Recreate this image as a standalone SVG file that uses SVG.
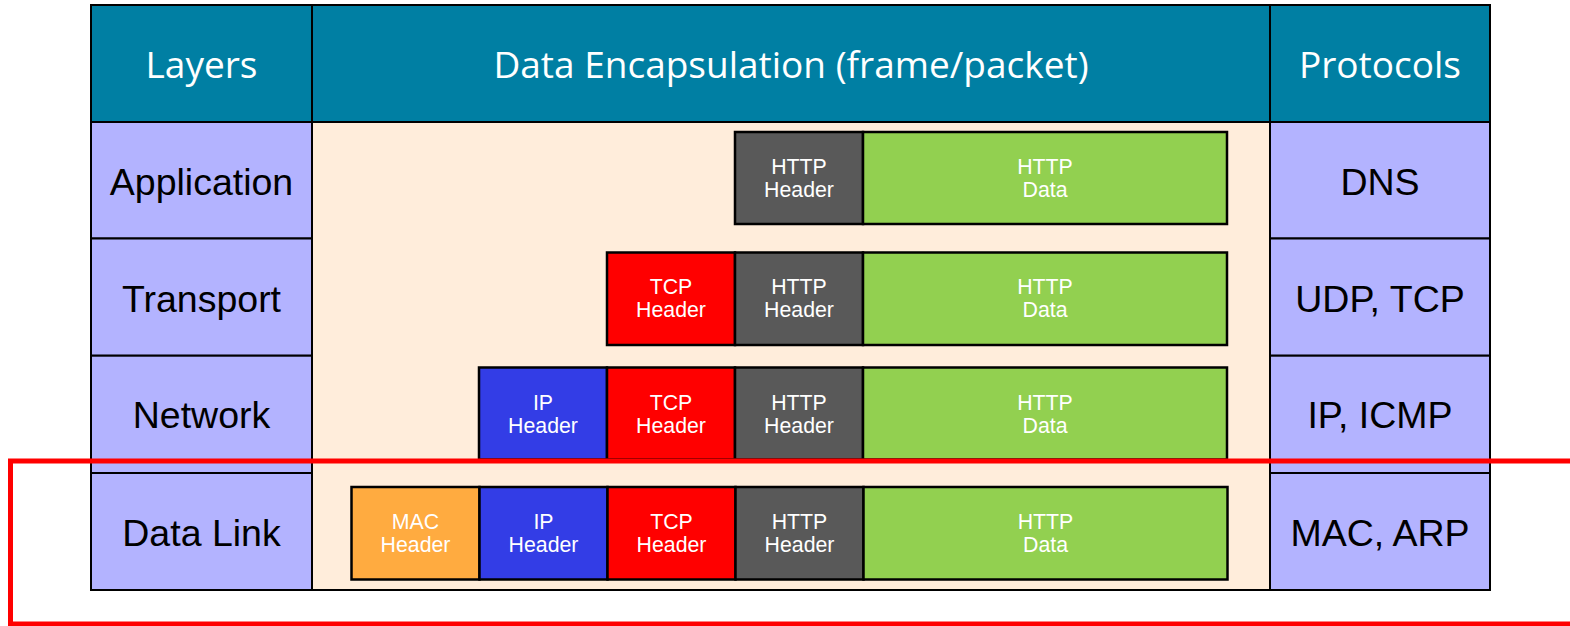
<svg xmlns="http://www.w3.org/2000/svg" width="1570" height="626" viewBox="0 0 1570 626">
<style>
.hdr{fill:#007FA3;stroke:#000;stroke-width:2}
.lay{fill:#B3B3FF;stroke:#000;stroke-width:2}
.mid{fill:#FFEDDB;stroke:#000;stroke-width:2}
.ht{font-family:"Open Sans",sans-serif;font-size:37px;fill:#fff;text-anchor:middle}
.lt{font-family:"Liberation Sans",Arial,sans-serif;font-size:37.5px;fill:#000;text-anchor:middle}
.pk{stroke:#000;stroke-width:2.5}
.pt{font-family:"Liberation Sans",Arial,sans-serif;font-size:21.3px;fill:#fff;text-anchor:middle}
.mac{fill:#FFAB40}.ip{fill:#333DE6}.tcp{fill:#FF0000}.http{fill:#595959}.data{fill:#92D050}
</style>
<rect width="1570" height="626" fill="#fff"/>
<g id="header">
<rect class="hdr" x="91" y="5" width="221" height="117"/>
<rect class="hdr" x="312" y="5" width="958" height="117"/>
<rect class="hdr" x="1270" y="5" width="220" height="117"/>
<text class="ht" x="201.5" y="78">Layers</text>
<text class="ht" x="791" y="78">Data Encapsulation (frame/packet)</text>
<text class="ht" x="1380" y="78">Protocols</text>
</g>
<g id="middle">
<rect class="mid" x="312" y="122" width="958" height="468"/>
</g>
<g id="layer-application">
<rect class="lay" x="91" y="122" width="221" height="116.5"/>
<text class="lt" x="201.5" y="195">Application</text>
</g>
<g id="layer-transport">
<rect class="lay" x="91" y="238.5" width="221" height="117.2"/>
<text class="lt" x="201.5" y="311.5">Transport</text>
</g>
<g id="layer-network">
<rect class="lay" x="91" y="355.7" width="221" height="117.3"/>
<text class="lt" x="201.5" y="428">Network</text>
</g>
<g id="layer-datalink">
<rect class="lay" x="91" y="473" width="221" height="117"/>
<text class="lt" x="201.5" y="545.5">Data Link</text>
</g>
<g id="proto-application">
<rect class="lay" x="1270" y="122" width="220" height="116.5"/>
<text class="lt" x="1380" y="195">DNS</text>
</g>
<g id="proto-transport">
<rect class="lay" x="1270" y="238.5" width="220" height="117.2"/>
<text class="lt" x="1380" y="311.5" font-size="38.5">UDP, TCP</text>
</g>
<g id="proto-network">
<rect class="lay" x="1270" y="355.7" width="220" height="117.3"/>
<text class="lt" x="1380" y="428" font-size="38.5">IP, ICMP</text>
</g>
<g id="proto-datalink">
<rect class="lay" x="1270" y="473" width="220" height="117"/>
<text class="lt" x="1380" y="545.5" font-size="38.5">MAC, ARP</text>
</g>
<g id="packet-application">
<rect class="pk http" x="735" y="132" width="128" height="92"/>
<rect class="pk data" x="863" y="132" width="364" height="92"/>
<text class="pt" x="799" y="174">HTTP</text><text class="pt" x="799" y="197">Header</text>
<text class="pt" x="1045" y="174">HTTP</text><text class="pt" x="1045" y="197">Data</text>
</g>
<g id="packet-transport">
<rect class="pk tcp" x="607" y="252.5" width="128" height="92.5"/>
<rect class="pk http" x="735" y="252.5" width="128" height="92.5"/>
<rect class="pk data" x="863" y="252.5" width="364" height="92.5"/>
<text class="pt" x="671" y="294">TCP</text><text class="pt" x="671" y="317">Header</text>
<text class="pt" x="799" y="294">HTTP</text><text class="pt" x="799" y="317">Header</text>
<text class="pt" x="1045" y="294">HTTP</text><text class="pt" x="1045" y="317">Data</text>
</g>
<g id="packet-network">
<rect class="pk ip" x="479" y="367.5" width="128" height="92"/>
<rect class="pk tcp" x="607" y="367.5" width="128" height="92"/>
<rect class="pk http" x="735" y="367.5" width="128" height="92"/>
<rect class="pk data" x="863" y="367.5" width="364" height="92"/>
<text class="pt" x="543" y="410">IP</text><text class="pt" x="543" y="433">Header</text>
<text class="pt" x="671" y="410">TCP</text><text class="pt" x="671" y="433">Header</text>
<text class="pt" x="799" y="410">HTTP</text><text class="pt" x="799" y="433">Header</text>
<text class="pt" x="1045" y="410">HTTP</text><text class="pt" x="1045" y="433">Data</text>
</g>
<g id="packet-datalink">
<rect class="pk mac" x="351.5" y="487" width="128" height="92.5"/>
<rect class="pk ip" x="479.5" y="487" width="128" height="92.5"/>
<rect class="pk tcp" x="607.5" y="487" width="128" height="92.5"/>
<rect class="pk http" x="735.5" y="487" width="128" height="92.5"/>
<rect class="pk data" x="863.5" y="487" width="364" height="92.5"/>
<text class="pt" x="415.5" y="529">MAC</text><text class="pt" x="415.5" y="552">Header</text>
<text class="pt" x="543.5" y="529">IP</text><text class="pt" x="543.5" y="552">Header</text>
<text class="pt" x="671.5" y="529">TCP</text><text class="pt" x="671.5" y="552">Header</text>
<text class="pt" x="799.5" y="529">HTTP</text><text class="pt" x="799.5" y="552">Header</text>
<text class="pt" x="1045.5" y="529">HTTP</text><text class="pt" x="1045.5" y="552">Data</text>
</g>
<g id="highlight">
<rect x="10.5" y="461" width="1600" height="163" fill="none" stroke="#FF0000" stroke-width="5"/>
</g>
</svg>
